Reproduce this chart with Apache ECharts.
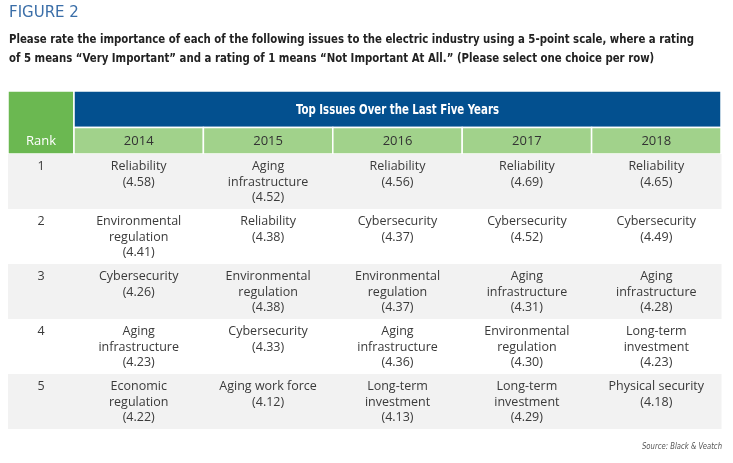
<!DOCTYPE html>
<html>
<head>
<meta charset="utf-8">
<script src="https://cdn.jsdelivr.net/npm/echarts@6/dist/echarts.min.js"></script>
<style>
html,body{margin:0;padding:0;background:#fff;}
#chart{width:733px;height:463px;}
</style>
</head>
<body>
<div id="chart"></div>
<script>
// ---- data ----
var figureLabel = 'FIGURE 2';
var questionLines = [
  'Please rate the importance of each of the following issues to the electric industry using a 5-point scale, where a rating',
  'of 5 means \u201cVery Important\u201d and a rating of 1 means \u201cNot Important At All.\u201d (Please select one choice per row)'
];
var headerTitle = 'Top Issues Over the Last Five Years';
var rankHeader = 'Rank';
var years = ['2014', '2015', '2016', '2017', '2018'];
var ranks = ['1', '2', '3', '4', '5'];

var issues2014 = ['Reliability', 'Environmental\nregulation', 'Cybersecurity', 'Aging\ninfrastructure', 'Economic\nregulation'];
var scores2014 = [4.58, 4.41, 4.26, 4.23, 4.22];
var issues2015 = ['Aging\ninfrastructure', 'Reliability', 'Environmental\nregulation', 'Cybersecurity', 'Aging work force'];
var scores2015 = [4.52, 4.38, 4.38, 4.33, 4.12];
var issues2016 = ['Reliability', 'Cybersecurity', 'Environmental\nregulation', 'Aging\ninfrastructure', 'Long-term\ninvestment'];
var scores2016 = [4.56, 4.37, 4.37, 4.36, 4.13];
var issues2017 = ['Reliability', 'Cybersecurity', 'Aging\ninfrastructure', 'Environmental\nregulation', 'Long-term\ninvestment'];
var scores2017 = [4.69, 4.52, 4.31, 4.30, 4.29];
var issues2018 = ['Reliability', 'Cybersecurity', 'Aging\ninfrastructure', 'Long-term\ninvestment', 'Physical security'];
var scores2018 = [4.65, 4.49, 4.28, 4.23, 4.18];

var sourceNote = 'Source: Black & Veatch';

// ---- build ----
var issuesByYear = [issues2014, issues2015, issues2016, issues2017, issues2018];
var scoresByYear = [scores2014, scores2015, scores2016, scores2017, scores2018];

var BLUE = '#03508f';
var DKGREEN = '#6bb851';
var LTGREEN = '#a1d28b';
var STRIPE = '#f2f2f2';
var TXT = '#3a3a3a';
var BODYFONT = "'Open Sans', 'DejaVu Sans', sans-serif";
var NARROW = "'Liberation Sans Narrow', 'DejaVu Sans Condensed', sans-serif";

var measureCtx = document.createElement('canvas').getContext('2d');
function textWidth(text, font) { measureCtx.font = font; return measureCtx.measureText(text).width; }

var SUB_FONT = 'bold 13px ' + NARROW;
var subScale = 685 / textWidth(questionLines[0], SUB_FONT);
var HEAD_FONT = 'bold 13.5px ' + NARROW;
var headScale = 203 / textWidth(headerTitle, HEAD_FONT);
var SRC_FONT = 'italic 9px ' + NARROW;
var srcScale = 80 / textWidth(sourceNote, SRC_FONT);

var bodyData = [];
for (var c = 0; c < years.length; c++) {
  for (var r = 0; r < ranks.length; r++) bodyData.push([c, r]);
}
var rankData = ranks.map(function (d, i) { return [0, i]; });

function cellRect(api) {
  var center = api.coord([api.value(0), api.value(1)]);
  var size = api.size([1, 1]);
  return { x: center[0] - size[0] / 2, y: center[1] - size[1] / 2, width: size[0], height: size[1], cx: center[0], cy: center[1] };
}

function bodyRender(getText) {
  return function (params, api) {
    var b = cellRect(api);
    var row = api.value(1);
    var children = [];
    if (row % 2 === 0) {
      children.push({ type: 'rect', shape: { x: b.x, y: b.y, width: b.width + 0.5, height: b.height }, style: { fill: STRIPE } });
    }
    children.push({
      type: 'text',
      style: {
        x: b.cx, y: b.y + 5, text: getText(params.dataIndex, api),
        align: 'center', verticalAlign: 'top',
        font: '12.5px ' + BODYFONT, lineHeight: 15.5, fill: TXT
      }
    });
    return { type: 'group', children: children };
  };
}

var option = {
  animation: false,
  backgroundColor: '#ffffff',
  title: [
    { text: figureLabel, left: 9, top: 6, padding: 0,
      textStyle: { fontFamily: "'DejaVu Sans', sans-serif", fontSize: 15, fontWeight: 'normal', color: '#3a6ea8' } }
  ],
  graphic: [
    { type: 'text', x: 9, y: 30.5, scaleX: subScale, silent: true,
      style: { text: questionLines.join('\n'), font: SUB_FONT, lineHeight: 18.5, fill: '#222', verticalAlign: 'top' } },
    { type: 'text', x: 722, y: 447, scaleX: srcScale, silent: true,
      style: { text: sourceNote, font: SRC_FONT, fill: '#555', align: 'right', verticalAlign: 'middle' } }
  ],
  grid: [
    { left: 8, top: 91, width: 66, height: 63 },
    { left: 74, top: 91, right: 12, height: 36.5 },
    { left: 74, top: 127.5, right: 12, height: 26.5 },
    { left: 8, top: 154, width: 66, height: 275 },
    { left: 74, top: 154, right: 12, height: 275 }
  ],
  xAxis: [
    { gridIndex: 0, type: 'category', data: [rankHeader], show: false },
    { gridIndex: 1, type: 'category', data: [headerTitle], show: false },
    { gridIndex: 2, type: 'category', data: years, show: false },
    { gridIndex: 3, type: 'category', data: [rankHeader], show: false },
    { gridIndex: 4, type: 'category', data: years, show: false }
  ],
  yAxis: [
    { gridIndex: 0, type: 'category', data: ['h'], show: false },
    { gridIndex: 1, type: 'category', data: ['h'], show: false },
    { gridIndex: 2, type: 'category', data: ['h'], show: false },
    { gridIndex: 3, type: 'category', data: ranks, inverse: true, show: false },
    { gridIndex: 4, type: 'category', data: ranks, inverse: true, show: false }
  ],
  series: [
    { type: 'custom', silent: true, xAxisIndex: 0, yAxisIndex: 0, data: [[0, 0]],
      renderItem: function (params, api) {
        var b = cellRect(api);
        return { type: 'group', children: [
          { type: 'rect', shape: { x: b.x, y: b.y, width: b.width, height: b.height }, style: { fill: DKGREEN, stroke: '#fff', lineWidth: 1.5 } },
          { type: 'text', style: { x: b.cx, y: b.y + b.height - 13, text: rankHeader, align: 'center', verticalAlign: 'middle', font: '13px ' + BODYFONT, fill: '#fff' } }
        ] };
      } },
    { type: 'custom', silent: true, xAxisIndex: 1, yAxisIndex: 1, data: [[0, 0]],
      renderItem: function (params, api) {
        var b = cellRect(api);
        return { type: 'group', children: [
          { type: 'rect', shape: { x: b.x, y: b.y, width: b.width, height: b.height }, style: { fill: BLUE, stroke: '#fff', lineWidth: 1.5 } },
          { type: 'text', x: b.cx, y: b.cy + 1.5, scaleX: headScale,
            style: { x: 0, y: 0, text: headerTitle, align: 'center', verticalAlign: 'middle', font: HEAD_FONT, fill: '#fff' } }
        ] };
      } },
    { type: 'custom', silent: true, xAxisIndex: 2, yAxisIndex: 2, data: years.map(function (y, i) { return [i, 0]; }),
      renderItem: function (params, api) {
        var b = cellRect(api);
        return { type: 'group', children: [
          { type: 'rect', shape: { x: b.x, y: b.y, width: b.width, height: b.height }, style: { fill: LTGREEN, stroke: '#fff', lineWidth: 1.5 } },
          { type: 'text', style: { x: b.cx, y: b.cy + 0.5, text: years[params.dataIndex], align: 'center', verticalAlign: 'middle', font: '13px ' + BODYFONT, fill: '#333' } }
        ] };
      } },
    { type: 'custom', silent: true, xAxisIndex: 3, yAxisIndex: 3, data: rankData,
      renderItem: bodyRender(function (i) { return ranks[i]; }) },
    { type: 'custom', silent: true, xAxisIndex: 4, yAxisIndex: 4, data: bodyData,
      renderItem: bodyRender(function (i, api) {
        var c = api.value(0), r = api.value(1);
        return issuesByYear[c][r] + '\n(' + scoresByYear[c][r].toFixed(2) + ')';
      }) }
  ]
};

var chart = echarts.init(document.getElementById('chart'), null, { renderer: 'canvas' });
chart.setOption(option);
</script>
</body>
</html>
